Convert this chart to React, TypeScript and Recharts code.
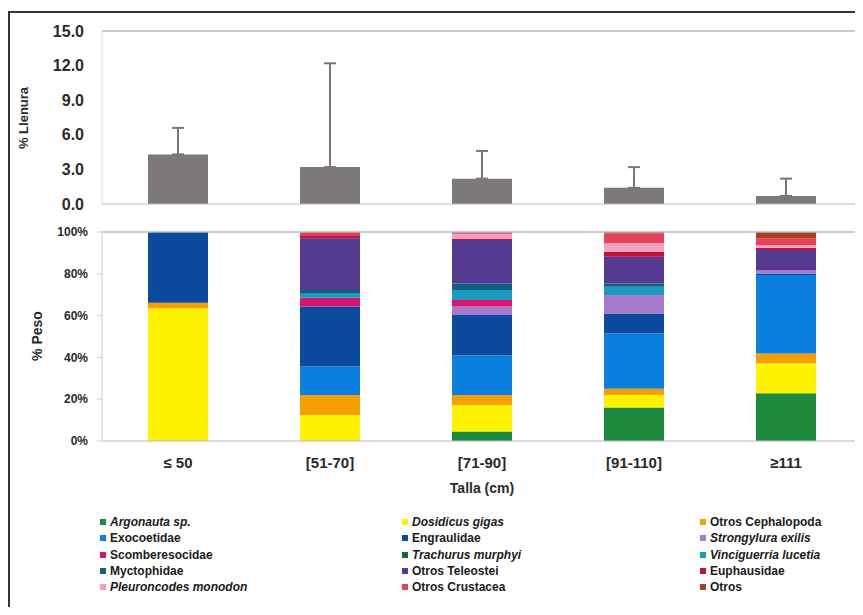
import React from 'react';
import { BarChart, Bar, XAxis, YAxis, ErrorBar, ReferenceLine, Label } from 'recharts';

// tallas (cm)
const categories = ['≤ 50', '[51-70]', '[71-90]', '[91-110]', '≥111'];

// % llenura: media y desvío superior
const llenura = [4.3, 3.2, 2.2, 1.4, 0.7];
const llenuraErr = [2.3, 9.0, 2.4, 1.8, 1.5];

// % peso por presa, de abajo hacia arriba
const presas = [
  { key: 'argonauta', name: 'Argonauta sp.', italic: true, color: '#1e8b3e', values: [0, 0, 4.5, 16, 22.8] },
  { key: 'dosidicus', name: 'Dosidicus gigas', italic: true, color: '#fff200', values: [63.5, 12.4, 12.7, 6, 14.4] },
  { key: 'otrosCeph', name: 'Otros Cephalopoda', italic: false, color: '#f5a000', values: [2.7, 9.6, 4.8, 3, 4.7] },
  { key: 'exocoetidae', name: 'Exocoetidae', italic: false, color: '#0a7fe0', values: [0, 13.6, 19, 26.5, 37.5] },
  { key: 'engraulidae', name: 'Engraulidae', italic: false, color: '#0b4a9e', values: [33.8, 28.7, 19.3, 9.5, 0.8] },
  { key: 'strongylura', name: 'Strongylura exilis', italic: true, color: '#a97acb', values: [0, 0, 4, 8.9, 1.6] },
  { key: 'scomberesocidae', name: 'Scomberesocidae', italic: false, color: '#d7166f', values: [0, 4.3, 3.2, 0, 0] },
  { key: 'trachurus', name: 'Trachurus murphyi', italic: true, color: '#106b3a', values: [0, 0, 0, 0, 0] },
  { key: 'vinciguerria', name: 'Vinciguerria lucetia', italic: true, color: '#1c9bc0', values: [0, 1.8, 4.7, 3.9, 0] },
  { key: 'myctophidae', name: 'Myctophidae', italic: false, color: '#11607e', values: [0, 1.8, 3.2, 1.6, 0] },
  { key: 'otrosTel', name: 'Otros Teleostei', italic: false, color: '#553a91', values: [0, 24.8, 20.8, 12.8, 9.6] },
  { key: 'euphausidae', name: 'Euphausidae', italic: false, color: '#c3103a', values: [0, 1.5, 0.6, 2.4, 1.1] },
  { key: 'pleuroncodes', name: 'Pleuroncodes monodon', italic: true, color: '#f2a0bf', values: [0, 0, 2.4, 4, 1.3] },
  { key: 'otrosCrust', name: 'Otros Crustacea', italic: false, color: '#e8415a', values: [0, 1.5, 0.8, 4.8, 3.2] },
  { key: 'otros', name: 'Otros', italic: false, color: '#a8401c', values: [0, 0, 0, 0.6, 3] },
];

const topData = categories.map((c, i) => ({ talla: c, llenura: llenura[i], err: [0, llenuraErr[i]] }));
const bottomData = categories.map((c, i) => {
  const row: Record<string, number | string> = { talla: c };
  presas.forEach((p) => { row[p.key] = p.values[i]; });
  return row;
});

const font = 'Arial, "Liberation Sans", sans-serif';
const ink = '#2a2a2a';
const tick = (size: number) => ({ fontSize: size, fontWeight: 'bold', fill: ink, fontFamily: font });

export default function App() {
  return (
    <div style={{ position: 'relative', width: 863, height: 615, margin: -8, background: '#fff', overflow: 'hidden', fontFamily: font }}>
      <div style={{ position: 'absolute', left: 8, top: 11, width: 860, height: 620, borderTop: '2px solid #333', borderLeft: '2px solid #333' }} />

      <div style={{ position: 'absolute', left: 0, top: 0 }}>
        <BarChart width={863} height={215} data={topData} margin={{ top: 31, right: 1, left: 0, bottom: 10 }}>
          <XAxis dataKey="talla" height={1} tick={false} tickLine={false} axisLine={{ stroke: '#bbb' }} />
          <YAxis
            width={102}
            domain={[0, 15]}
            ticks={[0, 3, 6, 9, 12, 15]}
            tickFormatter={(v: number) => v.toFixed(1)}
            tick={tick(16)}
            tickSize={4}
            tickMargin={14}
            axisLine={{ stroke: '#ddd' }}
            tickLine={false}
          />
          <ReferenceLine y={15} stroke="#bbb" strokeWidth={1.5} />
          <Bar dataKey="llenura" fill="#7d787a" barSize={60} isAnimationActive={false}>
            <ErrorBar dataKey="err" direction="y" width={6} strokeWidth={2} stroke="#7a7577" />
          </Bar>
        </BarChart>
      </div>

      <div style={{ position: 'absolute', left: 0, top: 215 }}>
        <BarChart width={863} height={285} data={bottomData} margin={{ top: 17, right: 1, left: 0, bottom: 4 }}>
          <XAxis dataKey="talla" height={55} tick={tick(15)} tickLine={false} tickSize={0} tickMargin={16} axisLine={{ stroke: '#bbb' }}>
            <Label value="Talla (cm)" position="insideBottom" offset={3} style={{ fontSize: 14, fontWeight: 'bold', fill: ink, fontFamily: font }} />
          </XAxis>
          <YAxis
            width={102}
            domain={[0, 100]}
            ticks={[0, 20, 40, 60, 80, 100]}
            tickFormatter={(v: number) => `${v}%`}
            tick={tick(12)}
            tickSize={5}
            tickMargin={9}
            axisLine={{ stroke: '#ccc' }}
            tickLine={{ stroke: '#ccc' }}
            allowDataOverflow
          />
          <ReferenceLine y={100} stroke="#bbb" strokeWidth={1.5} />
          {presas.map((p) => (
            <Bar key={p.key} dataKey={p.key} name={p.name} stackId="peso" fill={p.color} barSize={60} isAnimationActive={false} />
          ))}
        </BarChart>
      </div>

      <div style={{ position: 'absolute', left: 23, top: 118, transform: 'translate(-50%, -50%) rotate(-90deg)', fontSize: 13, fontWeight: 'bold', color: ink, whiteSpace: 'nowrap' }}>
        % Llenura
      </div>
      <div style={{ position: 'absolute', left: 37, top: 336, transform: 'translate(-50%, -50%) rotate(-90deg)', fontSize: 14, fontWeight: 'bold', color: ink, whiteSpace: 'nowrap' }}>
        % Peso
      </div>

      <div style={{ position: 'absolute', left: 100, top: 514, display: 'grid', gridTemplateColumns: '302px 298px 160px', fontSize: 12, fontWeight: 'bold', color: '#1a1a1a', lineHeight: '16.3px' }}>
        {presas.map((p) => (
          <div key={p.key} style={{ display: 'flex', alignItems: 'center', whiteSpace: 'nowrap' }}>
            <span style={{ display: 'inline-block', width: 6, height: 6, background: p.color, marginRight: 4 }} />
            <span style={{ fontStyle: p.italic ? 'italic' : 'normal' }}>{p.name}</span>
          </div>
        ))}
      </div>
    </div>
  );
}
